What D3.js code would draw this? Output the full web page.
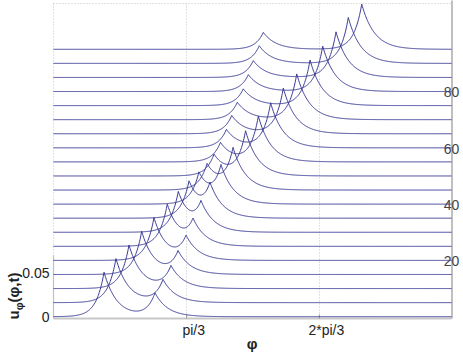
<!DOCTYPE html>
<html><head><meta charset="utf-8">
<script src="https://cdn.jsdelivr.net/npm/d3@7"></script>
<style>body{margin:0;background:#fff;overflow:hidden}</style>
</head><body>
<svg id="c" width="463" height="355"></svg>
<script>
// time of each curve
const times = [0,5,10,15,20,25,30,35,40,45,50,55,60,65,70,75,80,85,90,95];
// rear peak (starts tall and fast, ends short and slow): position in phi, amplitude in u
const rearPos = [0.399,0.493,0.596,0.696,0.793,0.898,0.985,1.070,1.148,1.212,1.267,1.318,1.365,1.407,1.451,1.498,1.538,1.577,1.624,1.656];
const rearAmp = [0.0505,0.0500,0.0494,0.0488,0.0482,0.0470,0.0448,0.0402,0.0343,0.0287,0.0240,0.0218,0.0208,0.0207,0.0198,0.0190,0.0192,0.0191,0.0200,0.0192];
// front peak (starts short and slow, ends tall and fast)
const frontPos = [0.801,0.864,0.927,0.983,1.046,1.101,1.164,1.235,1.322,1.417,1.516,1.617,1.714,1.814,1.920,2.025,2.125,2.230,2.327,2.433];
const frontAmp = [0.0262,0.0252,0.0245,0.0245,0.0250,0.0260,0.0287,0.0333,0.0390,0.0448,0.0494,0.0510,0.0505,0.0515,0.0518,0.0517,0.0516,0.0518,0.0521,0.0513];
const widthLeft = 0.062;
const widthRight = 0.1;

const xTicks = [Math.PI/3, 2*Math.PI/3];
const xTickLabels = ["pi/3","2*pi/3"];
const uTicks = [0, 0.05];
const uTickLabels = ["0","0.05"];
const tTicks = [20,40,60,80];

const svg = d3.select("#c");
const L = 53.5, R = 451.5, T = 3.5, B = 318.5;
const x = d3.scaleLinear().domain([0, Math.PI]).range([L, R]);
const tY = d3.scaleLinear().domain([0, 95]).range([316.7, 49.3]);
const uY = d3.scaleLinear().domain([0, 0.05]).range([316.7, 272.7]);
const uPx = v => uY(0) - uY(v);

const grid = svg.append("g").attr("stroke", "#c4c4c4").attr("stroke-width", 1)
  .attr("stroke-dasharray", "1,2").attr("fill", "none");
grid.append("line").attr("x1", L).attr("x2", R).attr("y1", T).attr("y2", T);
grid.append("line").attr("x1", L).attr("x2", L).attr("y1", T).attr("y2", B);
xTicks.forEach(v => grid.append("line").attr("x1", Math.round(x(v))+0.5).attr("x2", Math.round(x(v))+0.5).attr("y1", T).attr("y2", B));

// axes lines
svg.append("line").attr("x1", L).attr("x2", R).attr("y1", B).attr("y2", B)
  .attr("stroke", "#c8c8c8").attr("stroke-width", 2);
svg.append("line").attr("x1", R+0.5).attr("x2", R+0.5).attr("y1", T-3).attr("y2", B)
  .attr("stroke", "#b0b0b0").attr("stroke-width", 1.6);
svg.append("line").attr("x1", L).attr("x2", L).attr("y1", uY(0.07)).attr("y2", B)
  .attr("stroke", "#c0c0c0").attr("stroke-width", 1.2);

// bottom ticks
const xAxis = d3.axisBottom(x).tickValues(xTicks).tickSize(-4)
  .tickFormat((d,i) => xTickLabels[i]);
const gx = svg.append("g").attr("transform", `translate(0,${B})`).call(xAxis);
gx.select(".domain").remove();
gx.selectAll(".tick line").attr("stroke", "#999");
gx.selectAll(".tick text").attr("font-family", "Liberation Sans, Arial, sans-serif")
  .attr("font-size", 14).attr("fill", "#222").attr("dy", "0.95em").attr("dx", 7);

// left (u) axis labels
const yAxis = d3.axisLeft(uY).tickValues(uTicks).tickSize(0).tickPadding(4)
  .tickFormat((d,i) => uTickLabels[i]);
const gy = svg.append("g").attr("transform", `translate(${L},0)`).call(yAxis);
gy.select(".domain").remove();
gy.selectAll(".tick text").attr("font-family", "Liberation Sans, Arial, sans-serif")
  .attr("font-size", 14).attr("fill", "#222");

// right (t) axis labels
const tAxis = d3.axisRight(tY).tickValues(tTicks).tickSize(0).tickPadding(0);
const gt = svg.append("g").attr("transform", `translate(${R},0)`).call(tAxis);
gt.select(".domain").remove();
gt.selectAll(".tick text").attr("font-family", "Liberation Sans, Arial, sans-serif")
  .attr("font-size", 14).attr("fill", "#444").attr("text-anchor", "middle").attr("x", 0).attr("dy", "0.38em");

// curves
const base = d3.range(0, 801).map(i => i * Math.PI / 800);
const line = d3.line().x(d => x(d[0])).y(d => d[1]);
const peak = (p, c, a) => a * Math.exp(-Math.abs(p - c) / (p < c ? widthLeft : widthRight));
const curves = svg.append("g").attr("fill", "none").attr("stroke", "#3a3a96").attr("stroke-width", 1);
times.forEach((t, i) => {
  const pts = base.concat([rearPos[i], frontPos[i]]).sort((a,b) => a-b);
  const data = pts.map(p => {
    const u = peak(p, rearPos[i], rearAmp[i]) + peak(p, frontPos[i], frontAmp[i]);
    return [p, tY(t) - uPx(u)];
  });
  curves.append("path").attr("d", line(data));
});

// axis titles
svg.append("text").attr("x", 252).attr("y", 349).attr("text-anchor", "middle")
  .attr("font-family", "Liberation Sans, Arial, sans-serif").attr("font-size", 15).attr("font-weight", "bold")
  .attr("fill", "#222").text("φ");
const yl = svg.append("text").attr("transform", "translate(19,296) rotate(-90)").attr("text-anchor", "middle")
  .attr("font-family", "Liberation Sans, Arial, sans-serif").attr("font-size", 15).attr("font-weight", "bold")
  .attr("fill", "#222");
yl.append("tspan").text("u");
yl.append("tspan").attr("font-size", 11).attr("dy", 4).text("φ");
yl.append("tspan").attr("dy", -4).text("(φ,t)");
</script>
</body></html>
